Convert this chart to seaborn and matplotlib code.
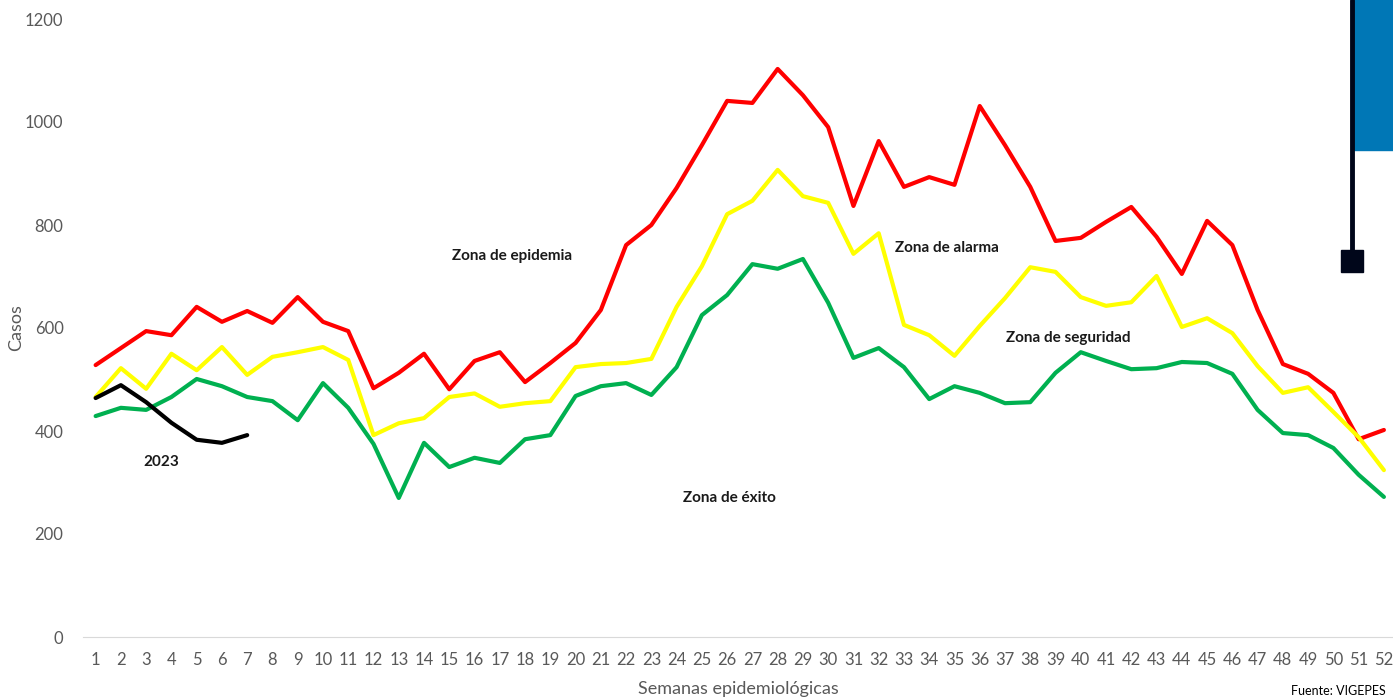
import pandas as pd
import seaborn as sns
import matplotlib.pyplot as plt
from matplotlib.patches import Rectangle
from matplotlib.lines import Line2D

# data
semanas = list(range(1, 53))
epidemia = [528, 561, 594, 586, 641, 612, 633, 610, 660, 612, 594, 483, 513, 550, 481, 536,
            553, 495, 532, 571, 635, 761, 800, 872, 955, 1041, 1037, 1103, 1052, 990, 837, 963,
            874, 893, 878, 1031, 955, 874, 769, 775, 806, 835, 777, 705, 808, 761, 635, 530,
            511, 474, 384, 402]
alarma = [466, 522, 482, 550, 518, 563, 509, 544, 553, 563, 538, 392, 415, 425, 466, 473,
          447, 454, 458, 524, 530, 532, 540, 641, 720, 821, 847, 907, 856, 843, 744, 784,
          606, 586, 546, 604, 658, 718, 709, 660, 643, 650, 701, 602, 619, 590, 526, 474,
          485, 437, 388, 324]
seguridad = [429, 445, 441, 466, 501, 487, 466, 458, 421, 493, 445, 375, 270, 377, 330, 348,
             338, 384, 392, 468, 487, 493, 470, 524, 625, 664, 724, 715, 734, 649, 542, 561,
             524, 462, 487, 474, 454, 456, 513, 553, 536, 520, 522, 534, 532, 511, 441, 396,
             392, 367, 315, 272]
semanas_2023 = [1, 2, 3, 4, 5, 6, 7]
casos_2023 = [464, 489, 456, 416, 383, 377, 392]

sns.set_style('white')
plt.rcParams['font.family'] = ['Lato', 'DejaVu Sans']

fig = plt.figure(figsize=(13.93, 6.98), dpi=100)
ax = fig.add_axes([83 / 1393, 61 / 698, 1 - 83 / 1393, (637 - 19) / 698])

df = pd.DataFrame({'semana': semanas, 'epidemia': epidemia,
                   'alarma': alarma, 'seguridad': seguridad})
sns.lineplot(data=df, x='semana', y='epidemia', color='#FF0000', lw=3, ax=ax)
sns.lineplot(data=df, x='semana', y='alarma', color='#FFFF00', lw=3, ax=ax)
sns.lineplot(data=df, x='semana', y='seguridad', color='#00B050', lw=3, ax=ax)
sns.lineplot(x=semanas_2023, y=casos_2023, color='black', lw=3, ax=ax)

ax.set_xlim(0.5, 52.36)
ax.set_ylim(0, 1200)
ax.set_xticks(semanas)
ax.set_yticks(range(0, 1201, 200))
ax.tick_params(axis='both', colors='#595959', labelsize=12, length=0)
ax.tick_params(axis='x', pad=11)
ax.tick_params(axis='y', pad=14)
for s in ['top', 'right', 'left']:
    ax.spines[s].set_visible(False)
ax.spines['bottom'].set_color('#D9D9D9')
ax.set_xlabel('Semanas epidemiológicas', color='#595959', fontsize=13, labelpad=9)
ax.set_ylabel('Casos', color='#595959', fontsize=13)
ax.yaxis.set_label_coords(-0.045, 0.5)

lbl = dict(fontsize=11, fontweight='bold', color='#1a1a1a', ha='center', va='center')
ax.text(17.5, 740, 'Zona de epidemia', **lbl)
ax.text(34.7, 755, 'Zona de alarma', **lbl)
ax.text(39.5, 580, 'Zona de seguridad', **lbl)
ax.text(26.1, 270, 'Zona de éxito', **lbl)
ax.text(3.6, 340, '2023', **lbl)

# decorative overlay at the top right
fig.patches.append(Rectangle((1354 / 1393, 1 - 150 / 698), 39 / 1393, 150 / 698,
                             transform=fig.transFigure, color='#0077B6', zorder=5))
fig.lines.append(Line2D([1352 / 1393, 1352 / 1393], [1, 1 - 252 / 698],
                        transform=fig.transFigure, color='#00061A', lw=3.5, zorder=6))
fig.patches.append(Rectangle((1341 / 1393, 1 - 272 / 698), 22 / 1393, 22 / 698,
                             transform=fig.transFigure, color='#00061A', zorder=6))
fig.text(1386 / 1393, 1 / 698, 'Fuente: VIGEPES', fontsize=9, color='black',
         ha='right', va='bottom')

fig.savefig('out.png', dpi=100)
